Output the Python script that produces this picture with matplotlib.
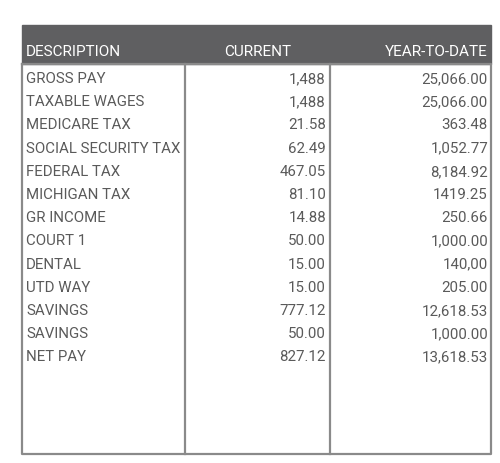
import matplotlib
matplotlib.use("Agg")
import matplotlib.pyplot as plt
from matplotlib.patches import Rectangle

headers = ["DESCRIPTION", "CURRENT", "YEAR-TO-DATE"]
descriptions = ["GROSS PAY", "TAXABLE WAGES", "MEDICARE TAX", "SOCIAL SECURITY TAX",
                "FEDERAL TAX", "MICHIGAN TAX", "GR INCOME", "COURT 1", "DENTAL",
                "UTD WAY", "SAVINGS", "SAVINGS", "NET PAY"]
current = ["1,488", "1,488", "21.58", "62.49", "467.05", "81.10", "14.88", "50.00",
           "15.00", "15.00", "777.12", "50.00", "827.12"]
ytd = ["25,066.00", "25,066.00", "363.48", "1,052.77", "8,184.92", "1419.25", "250.66",
       "1,000.00", "140,00", "205.00", "12,618.53", "1,000.00", "13,618.53"]

plt.rcParams['font.family'] = ['Roboto', 'DejaVu Sans']
fig = plt.figure(figsize=(5, 4.64), dpi=100)
ax = fig.add_axes([0, 0, 1, 1])
ax.set_xlim(0, 500)
ax.set_ylim(464, 0)
ax.axis('off')

L, R, T, HB, B = 22, 491, 26, 65, 455
c1, c2 = 185, 330
ax.add_patch(Rectangle((L, T), R - L, HB - T, color='#5f5f61', zorder=1))
lc = '#8a8a8a'
ax.plot([L, L, R, R, L], [HB, B, B, HB, HB], color=lc, lw=1.6, zorder=2)
ax.plot([c1, c1], [HB, B], color=lc, lw=1.6)
ax.plot([c2, c2], [HB, B], color=lc, lw=1.6)

hy = 52
ax.text(26, hy, headers[0], color='white', fontsize=11, va='center', ha='left')
ax.text(258, hy, headers[1], color='white', fontsize=11, va='center', ha='center')
ax.text(488, hy, headers[2], color='white', fontsize=11, va='center', ha='right')

tc = '#5a5a5a'
for i, (d, c, y) in enumerate(zip(descriptions, current, ytd)):
    yy = 79 + i * 23.2
    ax.text(26, yy, d, color=tc, fontsize=10.8, va='center', ha='left')
    ax.text(326, yy, c, color=tc, fontsize=10.8, va='center', ha='right')
    ax.text(488, yy, y, color=tc, fontsize=10.8, va='center', ha='right')

fig.savefig('out.png', dpi=100, facecolor='white')
